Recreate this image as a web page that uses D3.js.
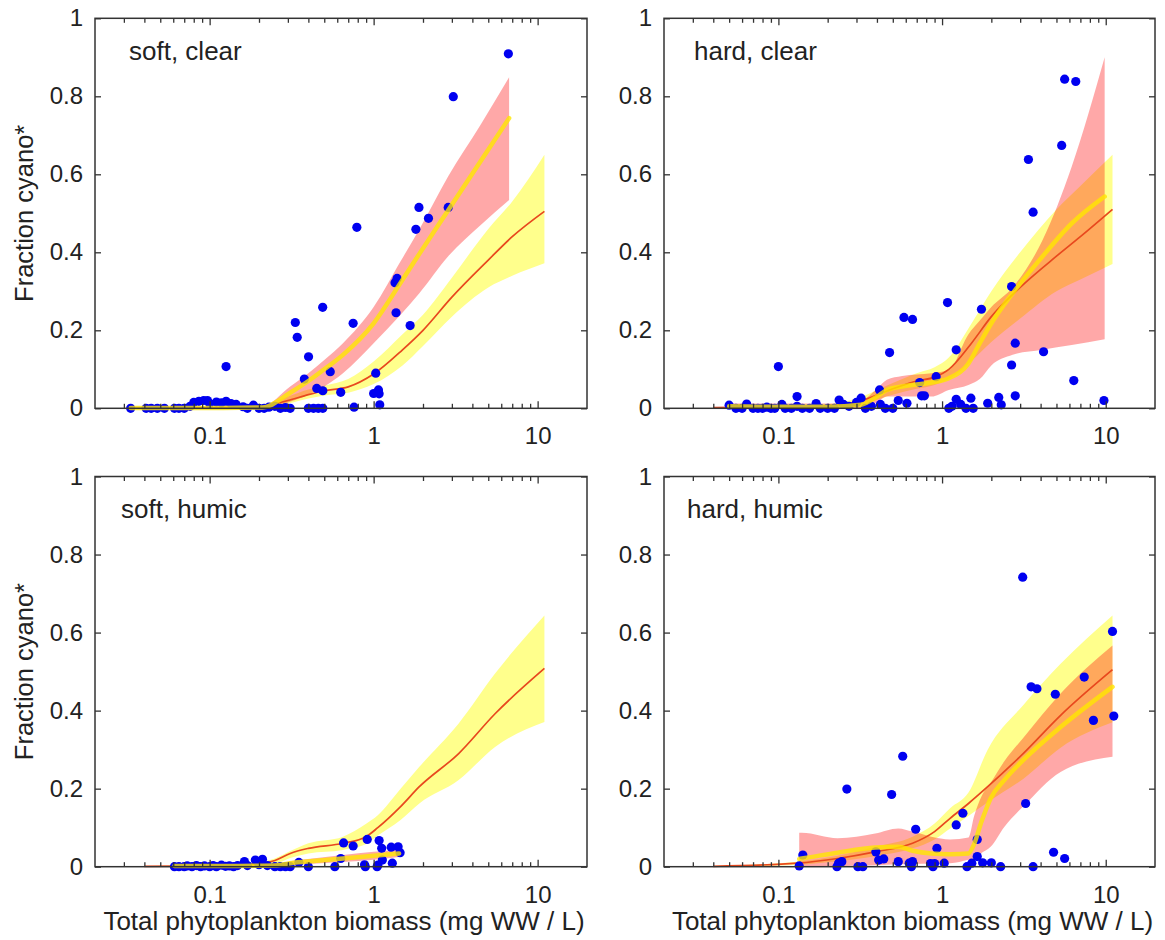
<!DOCTYPE html>
<html>
<head>
<meta charset="utf-8">
<script src="https://cdn.jsdelivr.net/npm/d3@7"></script>
<style>
  body { margin: 0; background: #fff; }
  svg { display: block; }
  text { font-family: "Liberation Sans", Arial, sans-serif; fill: #222; }
</style>
</head>
<body>
<div id="chart"></div>
<script>
// ---- data ----
const xMajor = [0.1, 1, 10];
const yTicks = [0, 0.2, 0.4, 0.6, 0.8, 1];
const panelLabels = ["soft, clear", "hard, clear", "soft, humic", "hard, humic"];

// soft, clear
const p1Dots = [[0.033,0],[0.041,0],[0.044,0],[0.048,0],[0.053,0],[0.061,0],[0.065,0],[0.07,0],[0.076,0.005],[0.08,0.015],
  [0.086,0.018],[0.092,0.02],[0.097,0.02],[0.1,0.012],[0.11,0.016],[0.118,0.014],[0.126,0.018],[0.135,0.012],[0.145,0.01],
  [0.16,0.004],[0.17,0],[0.185,0.008],[0.2,0],[0.215,0],[0.23,0.003],[0.25,0.005],[0.27,0],[0.29,0.002],[0.31,0],
  [0.333,0.22],[0.342,0.182],[0.401,0.132],[0.378,0.075],[0.544,0.094],[0.126,0.107],[0.4,0],[0.43,0],[0.46,0],[0.49,0],
  [0.45,0.051],[0.49,0.045],[0.63,0.041],[0.76,0.003],[0.489,0.259],[0.75,0.218],[0.79,0.464],[1.0,0.038],[1.03,0.09],
  [1.07,0.047],[1.08,0.037],[1.09,0.009],[1.35,0.322],[1.39,0.333],[1.37,0.245],[1.67,0.212],[1.81,0.459],[1.89,0.515],
  [2.16,0.487],[2.85,0.515],[3.06,0.799],[6.63,0.909]];
const p1RefX   = [0.04, 0.1, 0.2, 0.3, 0.4, 0.5, 0.7, 1.0, 1.5, 2, 3, 5, 7, 11];
const p1RefMid = [0, 0.001, 0.004, 0.02, 0.035, 0.045, 0.055, 0.088, 0.15, 0.2, 0.285, 0.38, 0.44, 0.505];
const p1RefLo  = [0, 0, 0.001, 0.012, 0.025, 0.033, 0.04, 0.062, 0.11, 0.16, 0.235, 0.31, 0.34, 0.372];
const p1RefHi  = [0.001, 0.003, 0.008, 0.03, 0.048, 0.058, 0.075, 0.12, 0.19, 0.24, 0.335, 0.46, 0.53, 0.65];
const p1FitX   = [0.033, 0.1, 0.21, 0.31, 0.4, 0.5, 0.65, 1.0, 1.46, 1.9, 2.85, 4.5, 6.7];
const p1FitMid = [0.001, 0.001, 0.002, 0.04, 0.07, 0.1, 0.137, 0.218, 0.322, 0.396, 0.508, 0.634, 0.744];
const p1FitLo  = [0, 0, 0, 0.017, 0.035, 0.056, 0.09, 0.167, 0.24, 0.295, 0.39, 0.47, 0.534];
const p1FitHi  = [0.004, 0.005, 0.006, 0.056, 0.09, 0.124, 0.167, 0.26, 0.377, 0.459, 0.595, 0.728, 0.849];

// hard, clear
const p2Dots = [[0.05,0.008],[0.055,0],[0.06,0],[0.064,0.011],[0.07,0],[0.075,0],[0.08,0],[0.085,0.003],[0.09,0],[0.095,0],
  [0.1,0.107],[0.105,0.01],[0.11,0],[0.12,0],[0.13,0.03],[0.13,0.005],[0.14,0],[0.155,0],[0.17,0.012],[0.18,0],[0.2,0],
  [0.22,0],[0.235,0.021],[0.25,0.01],[0.27,0.005],[0.3,0.015],[0.32,0.026],[0.34,0],[0.37,0.005],[0.415,0.047],[0.42,0.01],
  [0.45,0],[0.478,0.143],[0.5,0],[0.54,0.02],[0.585,0.233],[0.61,0.013],[0.66,0.228],[0.73,0.066],[0.75,0.032],[0.78,0.032],
  [0.92,0.081],[1.08,0.271],[1.1,0],[1.15,0.005],[1.22,0.15],[1.22,0.023],[1.3,0.01],[1.4,0],[1.5,0.026],[1.55,0],
  [1.74,0.254],[1.9,0.013],[2.22,0.028],[2.3,0.009],[2.66,0.312],[2.66,0.111],[2.8,0.167],[2.8,0.032],[3.37,0.638],
  [3.6,0.503],[4.17,0.145],[5.38,0.674],[5.61,0.844],[6.38,0.071],[6.56,0.838],[9.75,0.02]];
const p2RefX   = [0.04, 0.1, 0.2, 0.3, 0.5, 0.7, 0.9, 1.1, 1.5, 2, 3, 5, 7, 11];
const p2RefMid = [0.002, 0.003, 0.006, 0.016, 0.05, 0.07, 0.08, 0.1, 0.165, 0.235, 0.31, 0.39, 0.44, 0.51];
const p2RefLo  = [0.001, 0.002, 0.003, 0.008, 0.035, 0.05, 0.06, 0.075, 0.12, 0.17, 0.23, 0.3, 0.33, 0.37];
const p2RefHi  = [0.003, 0.005, 0.01, 0.025, 0.065, 0.09, 0.105, 0.13, 0.215, 0.3, 0.4, 0.51, 0.57, 0.65];
const p2FitX   = [0.05, 0.1, 0.2, 0.32, 0.4, 0.46, 0.57, 0.86, 1.1, 1.45, 1.7, 2.0, 2.7, 4.1, 6.2, 9.85];
const p2FitMid = [0.005, 0.004, 0.004, 0.009, 0.03, 0.047, 0.056, 0.066, 0.077, 0.115, 0.167, 0.218, 0.295, 0.389, 0.474, 0.543];
const p2FitLo  = [0, 0, 0, 0.001, 0.015, 0.03, 0.03, 0.03, 0.047, 0.06, 0.075, 0.11, 0.137, 0.15, 0.162, 0.177];
const p2FitHi  = [0.012, 0.012, 0.012, 0.02, 0.05, 0.073, 0.083, 0.09, 0.098, 0.19, 0.225, 0.26, 0.31, 0.43, 0.62, 0.9];

// soft, humic
const p3Dots = [[0.061,0],[0.065,0],[0.07,0],[0.073,0.002],[0.078,0],[0.083,0.003],[0.088,0],[0.093,0.002],[0.1,0],
  [0.105,0.003],[0.11,0],[0.118,0.004],[0.125,0.001],[0.132,0.002],[0.14,0],[0.148,0.003],[0.163,0.013],[0.17,0.003],
  [0.19,0.017],[0.2,0.005],[0.21,0.019],[0.225,0.003],[0.25,0],[0.27,0],[0.29,0],[0.31,0],[0.35,0.011],[0.4,0],[0.58,0],
  [0.63,0.021],[0.656,0.061],[0.75,0.053],[0.88,0.005],[0.89,0],[0.914,0.07],[1.05,0],[1.06,0.004],[1.08,0.067],
  [1.12,0.047],[1.13,0.017],[1.28,0.05],[1.3,0.009],[1.41,0.051],[1.45,0.036]];
const p3RefX   = [0.04, 0.1, 0.2, 0.25, 0.31, 0.4, 0.65, 0.9, 1.06, 1.46, 1.9, 3.3, 5.5, 11];
const p3RefMid = [0.001, 0.002, 0.008, 0.016, 0.034, 0.047, 0.06, 0.077, 0.1, 0.154, 0.205, 0.29, 0.392, 0.508];
const p3RefLo  = [0, 0.001, 0.004, 0.007, 0.022, 0.034, 0.043, 0.058, 0.08, 0.12, 0.162, 0.222, 0.307, 0.371];
const p3RefHi  = [0.002, 0.004, 0.012, 0.021, 0.04, 0.06, 0.077, 0.11, 0.132, 0.2, 0.256, 0.367, 0.495, 0.644];
const p3FitX   = [0.061, 0.15, 0.25, 0.31, 0.45, 0.65, 1.0, 1.43];
const p3FitMid = [0.002, 0.002, 0.003, 0.009, 0.015, 0.021, 0.028, 0.034];
const p3FitLo  = [0, 0, 0.001, 0.004, 0.008, 0.012, 0.018, 0.025];
const p3FitHi  = [0.004, 0.004, 0.006, 0.014, 0.022, 0.03, 0.038, 0.044];

// hard, humic
const p4Dots = [[0.134,0.002],[0.141,0.03],[0.228,0],[0.233,0.009],[0.244,0.013],[0.262,0.199],[0.306,0],[0.328,0],
  [0.394,0.038],[0.41,0.017],[0.44,0.02],[0.492,0.185],[0.54,0.013],[0.575,0.283],[0.63,0.009],[0.65,0],[0.66,0.013],
  [0.69,0.096],[0.85,0.008],[0.88,0],[0.9,0.008],[0.93,0.047],[1.03,0.009],[1.22,0.107],[1.34,0.137],[1.42,0],[1.52,0.009],
  [1.64,0.026],[1.64,0.07],[1.77,0.01],[2.0,0.01],[2.28,0],[3.11,0.742],[3.24,0.162],[3.5,0.461],[3.6,0],[3.8,0.456],
  [4.8,0.037],[4.92,0.442],[5.61,0.021],[7.39,0.486],[8.41,0.375],[11.0,0.603],[11.2,0.386]];
const p4RefX   = [0.04, 0.13, 0.23, 0.39, 0.66, 0.9, 1.12, 1.45, 1.9, 3.13, 5.3, 11];
const p4RefMid = [0.001, 0.009, 0.021, 0.038, 0.06, 0.09, 0.124, 0.162, 0.205, 0.29, 0.388, 0.505];
const p4RefLo  = [0, 0.005, 0.014, 0.027, 0.047, 0.07, 0.098, 0.13, 0.165, 0.225, 0.305, 0.37];
const p4RefHi  = [0.002, 0.013, 0.028, 0.051, 0.077, 0.111, 0.15, 0.19, 0.3, 0.414, 0.52, 0.644];
const p4FitX   = [0.134, 0.139, 0.23, 0.39, 0.54, 0.66, 0.86, 1.12, 1.45, 1.57, 1.74, 1.98, 2.4, 3.13, 5.3, 11];
const p4FitMid = [0.02, 0.021, 0.036, 0.049, 0.051, 0.041, 0.034, 0.032, 0.034, 0.058, 0.115, 0.175, 0.222, 0.273, 0.358, 0.461];
const p4FitLo  = [0, 0, 0.002, 0.004, 0.006, 0.007, 0.008, 0.009, 0.018, 0.021, 0.035, 0.051, 0.102, 0.154, 0.243, 0.282];
const p4FitHi  = [0.087, 0.087, 0.073, 0.085, 0.098, 0.09, 0.077, 0.07, 0.075, 0.13, 0.18, 0.215, 0.27, 0.33, 0.444, 0.567];

// ---- layout ----
const W = 1165, H = 940;
const cols = [{left: 95, right: 587}, {left: 664, right: 1155}];
const rows = [{top: 18.3, bottom: 408.3}, {top: 476.5, bottom: 866.7}];

const zip = (xs, m, lo, hi) => xs.map((x, i) => ({x: x, m: m[i], lo: lo[i], hi: hi[i]}));

const panels = [
  {label: panelLabels[0], dots: p1Dots, ref: zip(p1RefX, p1RefMid, p1RefLo, p1RefHi), fit: zip(p1FitX, p1FitMid, p1FitLo, p1FitHi), c: 0, r: 0, ldx: 34},
  {label: panelLabels[1], dots: p2Dots, ref: zip(p2RefX, p2RefMid, p2RefLo, p2RefHi), fit: zip(p2FitX, p2FitMid, p2FitLo, p2FitHi), c: 1, r: 0, ldx: 30},
  {label: panelLabels[2], dots: p3Dots, ref: zip(p3RefX, p3RefMid, p3RefLo, p3RefHi), fit: zip(p3FitX, p3FitMid, p3FitLo, p3FitHi), c: 0, r: 1, ldx: 26},
  {label: panelLabels[3], dots: p4Dots, ref: zip(p4RefX, p4RefMid, p4RefLo, p4RefHi), fit: zip(p4FitX, p4FitMid, p4FitLo, p4FitHi), c: 1, r: 1, ldx: 23}
];

// minor ticks of the log axis
const xMinor = [];
[0.01, 0.1, 1, 10].forEach(k => d3.range(2, 10).forEach(m => {
  const v = +(k * m).toPrecision(3);
  if (v > 0.02 && v < 20) xMinor.push(v);
}));

const svg = d3.select("#chart")
  .append("svg")
    .attr("width", W)
    .attr("height", H);

panels.forEach(p => {
  const {left, right} = cols[p.c];
  const {top, bottom} = rows[p.r];

  const x = d3.scaleLog().domain([0.02, 20]).range([left, right]);
  const y = d3.scaleLinear().domain([0, 1]).range([bottom, top]);

  const g = svg.append("g");

  const band = d3.area().x(d => x(d.x)).y0(d => y(d.lo)).y1(d => y(d.hi)).curve(d3.curveMonotoneX);
  const mid = d3.line().x(d => x(d.x)).y(d => y(d.m)).curve(d3.curveMonotoneX);

  // reference model band (yellow) and line (red)
  g.append("path").datum(p.ref).attr("d", band).attr("fill", "#ffff8c");
  // group fit band (pink)
  g.append("path").datum(p.fit).attr("d", band).attr("fill", "#ff0000").attr("fill-opacity", 0.34);
  g.append("path").datum(p.ref).attr("d", mid)
    .attr("fill", "none").attr("stroke", "#e8481e").attr("stroke-width", 1.7);

  // observations
  g.append("g").selectAll("circle")
    .data(p.dots)
    .join("circle")
      .attr("cx", d => x(d[0]))
      .attr("cy", d => y(d[1]))
      .attr("r", 4.6)
      .attr("fill", "#0000f0");

  // group fit line (thick yellow)
  g.append("path").datum(p.fit).attr("d", mid)
    .attr("fill", "none").attr("stroke", "#ffe600").attr("stroke-width", 4.5)
    .attr("stroke-opacity", 0.8).attr("stroke-linecap", "round");

  // axes (ticks inward on all four sides)
  const styleAxis = sel => {
    sel.select(".domain").remove();
    sel.selectAll("line").attr("stroke", "#333").attr("stroke-width", 1.3);
    sel.attr("font-family", null).attr("font-size", 24);
    sel.selectAll("text").attr("fill", "#222");
  };

  g.append("g").attr("transform", `translate(0,${bottom})`)
    .call(d3.axisBottom(x).tickValues(xMajor).tickSize(-7).tickPadding(19).tickFormat(d => String(d)))
    .call(styleAxis);
  g.append("g").attr("transform", `translate(0,${bottom})`)
    .call(d3.axisBottom(x).tickValues(xMinor).tickSize(-4.5).tickFormat(""))
    .call(styleAxis);
  g.append("g").attr("transform", `translate(0,${top})`)
    .call(d3.axisTop(x).tickValues(xMajor).tickSize(-7).tickFormat(""))
    .call(styleAxis);
  g.append("g").attr("transform", `translate(0,${top})`)
    .call(d3.axisTop(x).tickValues(xMinor).tickSize(-4.5).tickFormat(""))
    .call(styleAxis);
  g.append("g").attr("transform", `translate(${left},0)`)
    .call(d3.axisLeft(y).tickValues(yTicks).tickSize(-6).tickPadding(12).tickFormat(d => String(d)))
    .call(styleAxis);
  g.append("g").attr("transform", `translate(${right},0)`)
    .call(d3.axisRight(y).tickValues(yTicks).tickSize(-6).tickFormat(""))
    .call(styleAxis);

  g.append("rect")
    .attr("x", left).attr("y", top)
    .attr("width", right - left).attr("height", bottom - top)
    .attr("fill", "none").attr("stroke", "#333").attr("stroke-width", 1.5);

  // panel label
  g.append("text")
    .attr("x", left + p.ldx)
    .attr("y", top + 41.5)
    .attr("font-size", 26)
    .text(p.label);

  if (p.c === 0) {
    g.append("text")
      .attr("transform", `translate(33,${(top + bottom) / 2}) rotate(-90)`)
      .attr("text-anchor", "middle")
      .attr("font-size", 25.5)
      .text("Fraction cyano*");
  }
  if (p.r === 1) {
    g.append("text")
      .attr("x", (left + right) / 2 + 3)
      .attr("y", 930)
      .attr("text-anchor", "middle")
      .attr("font-size", 26)
      .text("Total phytoplankton biomass (mg WW / L)");
  }
});
</script>
</body>
</html>
